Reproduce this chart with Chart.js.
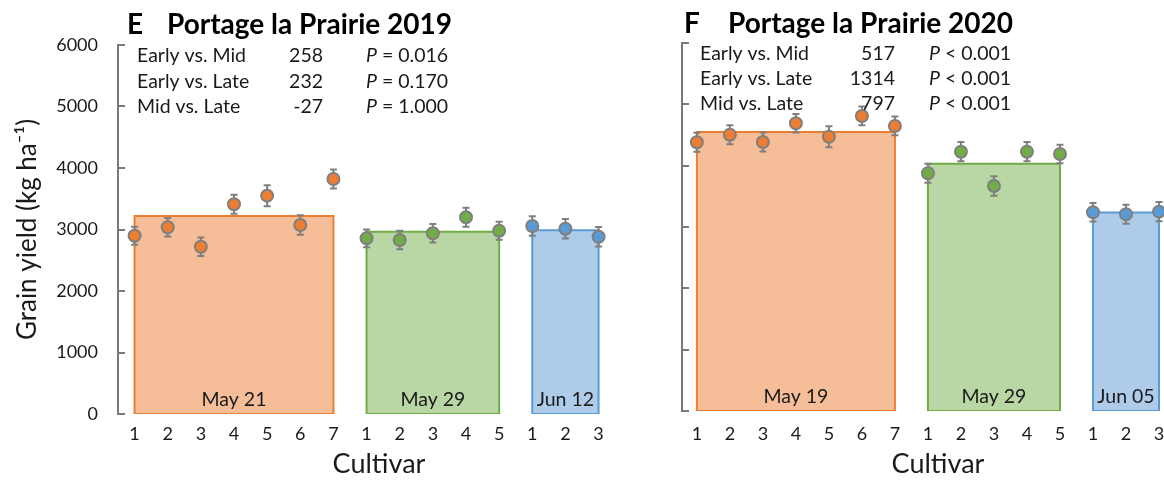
<!DOCTYPE html>
<html><head><meta charset="utf-8">
<script src="https://cdn.jsdelivr.net/npm/chart.js@4.4.1/dist/chart.umd.min.js"></script>
<style>
html,body{margin:0;padding:0;background:#fff;overflow:hidden;width:1164px;height:482px;position:relative;}
#w1{position:absolute;left:0;top:0;width:660px;height:482px;}
#w2{position:absolute;left:620px;top:0;width:600px;height:482px;}
</style></head><body>
<div id="w1"><canvas id="c1"></canvas></div>
<div id="w2"><canvas id="c2"></canvas></div>
<script>
// ---------- data ----------
const cultivarLabels = ['1','2','3','4','5','6','7','1','2','3','4','5','1','2','3'];
const groupSizes = [7, 5, 3];
const yTicks = [0, 1000, 2000, 3000, 4000, 5000, 6000];
const statLabels = ['Early vs. Mid', 'Early vs. Late', 'Mid vs. Late'];
const yTitle = 'Grain yield (kg ha\u207B\u00B9)';
const xTitle = 'Cultivar';

const title2019 = ['E', 'Portage la Prairie 2019'];
const dates2019 = ['May 21', 'May 29', 'Jun 12'];
const groupMeans2019 = [3220, 2962, 2988];
const early2019 = [2899, 3036, 2720, 3410, 3550, 3073, 3821];
const earlyErr2019 = [145, 150, 150, 155, 171, 160, 155];
const mid2019 = [2857, 2829, 2938, 3198, 2980];
const midErr2019 = [144, 150, 150, 155, 145];
const late2019 = [3057, 3013, 2883];
const lateErr2019 = [158, 158, 158];
const diff2019 = ['258', '232', '-27'];
const pval2019 = ['= 0.016', '= 0.170', '= 1.000'];

const title2020 = ['F', 'Portage la Prairie 2020'];
const dates2020 = ['May 19', 'May 29', 'Jun 05'];
const groupMeans2020 = [4549, 4032, 3235];
const early2020 = [4381, 4505, 4386, 4691, 4472, 4810, 4647];
const earlyErr2020 = [156, 156, 153, 150, 172, 153, 153];
const mid2020 = [3876, 4228, 3669, 4228, 4190];
const midErr2020 = [156, 156, 158, 156, 150];
const late2020 = [3240, 3207, 3250];
const lateErr2020 = [150, 156, 156];
const diff2020 = ['517', '1314', '797'];
const pval2020 = ['< 0.001', '< 0.001', '< 0.001'];

// ---------- style ----------
const FONT = "Lato, 'Open Sans', sans-serif";
const TEXT = '#1a1a1a';
const AXIS = '#7a7a7a';
const palette = [
  {pt: '#ED7D31', fill: '#F6BE98', line: '#ED7D31'},
  {pt: '#70AD47', fill: '#B9D7A5', line: '#70AD47'},
  {pt: '#5B9BD5', fill: '#AECBEA', line: '#5B9BD5'}
];
Chart.defaults.font.family = FONT;
Chart.defaults.color = TEXT;

function groupStart(g) {
  let s = 1;
  for (let i = 0; i < g; i++) s += groupSizes[i];
  return s;
}

function buildDatasets(means, series, errs) {
  const out = [];
  series.forEach((vals, g) => {
    const s = groupStart(g);
    out.push({
      type: 'scatter', order: 0,
      data: vals.map((v, j) => ({x: s + j, y: v})),
      errorBars: errs[g],
      pointRadius: 6, pointHoverRadius: 6, pointBorderWidth: 2,
      backgroundColor: palette[g].pt, borderColor: '#7F7F7F'
    });
  });
  means.forEach((m, g) => {
    const s = groupStart(g), e = s + groupSizes[g] - 1;
    out.push({
      type: 'line', order: 2,
      data: [{x: s, y: 0}, {x: s, y: m}, {x: e, y: m}, {x: e, y: 0}],
      fill: 'origin', backgroundColor: palette[g].fill,
      borderWidth: 0, borderColor: 'rgba(0,0,0,0)', pointRadius: 0, tension: 0
    });
    out.push({
      type: 'line', order: 1,
      data: [{x: s, y: 0}, {x: s, y: m}, {x: e, y: m}, {x: e, y: 0}, {x: s, y: 0}],
      fill: false, borderWidth: 2, borderColor: palette[g].line,
      pointRadius: 0, tension: 0, borderJoinStyle: 'miter'
    });
  });
  return out;
}

const decorPlugin = {
  id: 'decor',
  beforeDatasetDraw(chart, args) {
    const ds = chart.data.datasets[args.index];
    if (!ds.errorBars) return;
    const ctx = chart.ctx, xs = chart.scales.x, ys = chart.scales.y;
    ctx.save();
    ctx.strokeStyle = '#7F7F7F';
    ctx.lineWidth = 2;
    ds.data.forEach((p, i) => {
      const px = xs.getPixelForValue(p.x);
      const e = ds.errorBars[i];
      const y1 = ys.getPixelForValue(p.y + e), y2 = ys.getPixelForValue(p.y - e);
      ctx.beginPath();
      ctx.moveTo(px, y1); ctx.lineTo(px, y2);
      ctx.moveTo(px - 3.5, y1); ctx.lineTo(px + 3.5, y1);
      ctx.moveTo(px - 3.5, y2); ctx.lineTo(px + 3.5, y2);
      ctx.stroke();
    });
    ctx.restore();
  },
  afterDraw(chart, args, o) {
    const ctx = chart.ctx, xs = chart.scales.x, ys = chart.scales.y;
    const L = chart.chartArea.left;
    ctx.save();
    ctx.strokeStyle = AXIS; ctx.lineWidth = 2;
    ys.ticks.forEach(t => {
      const py = Math.round(ys.getPixelForValue(t.value));
      ctx.beginPath(); ctx.moveTo(L - 1, py); ctx.lineTo(L + 7, py); ctx.stroke();
    });
    ctx.fillStyle = '#000';
    ctx.textBaseline = 'alphabetic';
    ctx.textAlign = 'left';
    ctx.font = 'bold ' + o.titleSize + 'px ' + FONT;
    ctx.fillText(o.title[0], L + o.letterX, o.titleY);
    ctx.fillText(o.title[1], L + o.nameX, o.titleY);
    const normal = o.statSize + 'px ' + FONT;
    const italic = 'italic ' + o.statSize + 'px ' + FONT;
    ctx.fillStyle = TEXT;
    statLabels.forEach((lab, i) => {
      const y = o.rowY[i];
      ctx.font = normal;
      ctx.textAlign = 'left'; ctx.fillText(lab, L + o.labX, y);
      ctx.textAlign = 'right'; ctx.fillText(o.diffs[i], L + o.numX, y);
      ctx.textAlign = 'left';
      ctx.font = italic; ctx.fillText('P', L + o.pX, y);
      const w = ctx.measureText('P').width;
      ctx.font = normal; ctx.fillText(' ' + o.pvals[i], L + o.pX + w, y);
    });
    ctx.font = o.dateSize + 'px ' + FONT;
    ctx.textAlign = 'center'; ctx.textBaseline = 'middle';
    o.dates.forEach((d, g) => {
      const s = groupStart(g), e = s + groupSizes[g] - 1;
      ctx.fillText(d, xs.getPixelForValue((s + e) / 2), ys.getPixelForValue(0) - 14.5);
    });
    ctx.restore();
  }
};

function makeChart(id, c) {
  return new Chart(document.getElementById(id), {
    type: 'scatter',
    data: {datasets: buildDatasets(c.means, c.series, c.errs)},
    plugins: [decorPlugin],
    options: {
      responsive: true, maintainAspectRatio: false, animation: false,
      events: [],
      layout: {padding: {top: c.padTop, right: c.padRight, left: 0, bottom: 0}},
      plugins: {
        legend: {display: false}, tooltip: {enabled: false},
        decor: c.decor
      },
      scales: {
        x: {
          type: 'linear', min: c.xMin, max: c.xMax,
          afterBuildTicks: s => { s.ticks = cultivarLabels.map((_, i) => ({value: i + 1})); },
          afterFit: s => { s.height = c.xHeight; },
          grid: {display: false, drawTicks: false},
          border: {display: false},
          ticks: {
            autoSkip: false, maxRotation: 0, padding: c.xTickPad,
            font: {size: 18}, color: TEXT,
            callback: (v, i) => cultivarLabels[i]
          },
          title: {display: true, text: xTitle, font: {size: 27}, color: TEXT, padding: {top: 0, bottom: 2}}
        },
        y: {
          type: 'linear', min: 0, max: 6000,
          afterBuildTicks: s => { s.ticks = yTicks.map(v => ({value: v})); },
          afterFit: s => { s.width = c.yWidth; },
          grid: {display: false, drawTicks: false},
          border: {display: true, color: AXIS, width: 2},
          ticks: {display: c.yLabels, padding: 20, font: {size: 18}, color: TEXT,
                  callback: v => String(v)},
          title: {display: c.yLabels, text: yTitle, font: {size: 26}, color: TEXT, padding: {top: 12, bottom: 0}}
        }
      }
    }
  });
}

makeChart('c1', {
  means: groupMeans2019,
  series: [early2019, mid2019, late2019],
  errs: [earlyErr2019, midErr2019, lateErr2019],
  padTop: 45, padRight: 20, xMin: 0.5, xMax: 16.25, xHeight: 68, xTickPad: 9,
  yWidth: 118, yLabels: true,
  decor: {title: title2019, titleSize: 28, titleY: 34, letterX: 9, nameX: 49,
          statSize: 19.5, rowY: [62, 87.5, 113], labX: 19, numX: 205, pX: 248,
          diffs: diff2019, pvals: pval2019, dates: dates2019, dateSize: 19.5}
});

makeChart('c2', {
  means: groupMeans2020,
  series: [early2020, mid2020, late2020],
  errs: [earlyErr2020, midErr2020, lateErr2020],
  padTop: 43, padRight: 26, xMin: 0.55, xMax: 16.06, xHeight: 71, xTickPad: 12,
  yWidth: 62, yLabels: false,
  decor: {title: title2020, titleSize: 28, titleY: 33, letterX: 2, nameX: 46,
          statSize: 19.5, rowY: [60, 85, 110], labX: 18, numX: 213, pX: 247,
          diffs: diff2020, pvals: pval2020, dates: dates2020, dateSize: 19.5}
});
</script>
</body></html>
